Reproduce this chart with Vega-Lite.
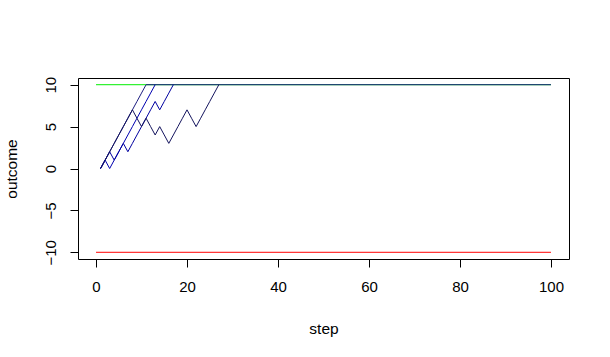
{
  "$schema": "https://vega.github.io/schema/vega-lite/v6.json",
  "width": 491,
  "height": 181,
  "autosize": {"type": "none"},
  "padding": {"left": 78, "top": 78, "right": 41, "bottom": 98},
  "background": "white",
  "config": {
    "view": {"stroke": "black", "strokeWidth": 1},
    "font": "Liberation Sans",
    "axis": {
      "domain": false,
      "grid": false,
      "ticks": true,
      "tickColor": "black",
      "tickSize": 8,
      "labelColor": "black",
      "labelFont": "Liberation Sans",
      "labelFontSize": 15,
      "titleFont": "Liberation Sans",
      "titleFontSize": 15.5,
      "titleFontWeight": "normal",
      "titleColor": "black"
    }
  },
  "datasets": {
    "refs": [
      {"series": "upper", "step": 0, "outcome": 10},
      {"series": "upper", "step": 100, "outcome": 10},
      {"series": "lower", "step": 0, "outcome": -10},
      {"series": "lower", "step": 100, "outcome": -10}
    ],
    "walks": [
      {"walk": "A", "step": 1, "outcome": 0},
      {"walk": "A", "step": 2, "outcome": 1},
      {"walk": "A", "step": 3, "outcome": 2},
      {"walk": "A", "step": 4, "outcome": 3},
      {"walk": "A", "step": 5, "outcome": 4},
      {"walk": "A", "step": 6, "outcome": 5},
      {"walk": "A", "step": 7, "outcome": 6},
      {"walk": "A", "step": 8, "outcome": 7},
      {"walk": "A", "step": 9, "outcome": 8},
      {"walk": "A", "step": 10, "outcome": 9},
      {"walk": "A", "step": 11, "outcome": 10},
      {"walk": "A", "step": 100, "outcome": 10},
      {"walk": "B", "step": 1, "outcome": 0},
      {"walk": "B", "step": 2, "outcome": 1},
      {"walk": "B", "step": 3, "outcome": 0},
      {"walk": "B", "step": 4, "outcome": 1},
      {"walk": "B", "step": 5, "outcome": 2},
      {"walk": "B", "step": 6, "outcome": 3},
      {"walk": "B", "step": 7, "outcome": 4},
      {"walk": "B", "step": 8, "outcome": 5},
      {"walk": "B", "step": 9, "outcome": 6},
      {"walk": "B", "step": 10, "outcome": 7},
      {"walk": "B", "step": 11, "outcome": 8},
      {"walk": "B", "step": 12, "outcome": 9},
      {"walk": "B", "step": 13, "outcome": 10},
      {"walk": "C", "step": 1, "outcome": 0},
      {"walk": "C", "step": 2, "outcome": 1},
      {"walk": "C", "step": 3, "outcome": 2},
      {"walk": "C", "step": 4, "outcome": 1},
      {"walk": "C", "step": 5, "outcome": 2},
      {"walk": "C", "step": 6, "outcome": 3},
      {"walk": "C", "step": 7, "outcome": 2},
      {"walk": "C", "step": 8, "outcome": 3},
      {"walk": "C", "step": 9, "outcome": 4},
      {"walk": "C", "step": 10, "outcome": 5},
      {"walk": "C", "step": 11, "outcome": 6},
      {"walk": "C", "step": 12, "outcome": 7},
      {"walk": "C", "step": 13, "outcome": 8},
      {"walk": "C", "step": 14, "outcome": 7},
      {"walk": "C", "step": 15, "outcome": 8},
      {"walk": "C", "step": 16, "outcome": 9},
      {"walk": "C", "step": 17, "outcome": 10},
      {"walk": "D", "step": 1, "outcome": 0},
      {"walk": "D", "step": 2, "outcome": 1},
      {"walk": "D", "step": 3, "outcome": 2},
      {"walk": "D", "step": 4, "outcome": 3},
      {"walk": "D", "step": 5, "outcome": 4},
      {"walk": "D", "step": 6, "outcome": 5},
      {"walk": "D", "step": 7, "outcome": 6},
      {"walk": "D", "step": 8, "outcome": 7},
      {"walk": "D", "step": 9, "outcome": 6},
      {"walk": "D", "step": 10, "outcome": 5},
      {"walk": "D", "step": 11, "outcome": 6},
      {"walk": "D", "step": 12, "outcome": 5},
      {"walk": "D", "step": 13, "outcome": 4},
      {"walk": "D", "step": 14, "outcome": 5},
      {"walk": "D", "step": 15, "outcome": 4},
      {"walk": "D", "step": 16, "outcome": 3},
      {"walk": "D", "step": 17, "outcome": 4},
      {"walk": "D", "step": 18, "outcome": 5},
      {"walk": "D", "step": 19, "outcome": 6},
      {"walk": "D", "step": 20, "outcome": 7},
      {"walk": "D", "step": 21, "outcome": 6},
      {"walk": "D", "step": 22, "outcome": 5},
      {"walk": "D", "step": 23, "outcome": 6},
      {"walk": "D", "step": 24, "outcome": 7},
      {"walk": "D", "step": 25, "outcome": 8},
      {"walk": "D", "step": 26, "outcome": 9},
      {"walk": "D", "step": 27, "outcome": 10}
    ]
  },
  "encoding": {
    "x": {
      "field": "step",
      "type": "quantitative",
      "scale": {"domain": [-3.96, 103.96], "nice": false, "zero": false},
      "axis": {"title": "step", "values": [0, 20, 40, 60, 80, 100], "labelPadding": 12, "titlePadding": 27, "labelFlush": false}
    },
    "y": {
      "field": "outcome",
      "type": "quantitative",
      "scale": {"domain": [-10.8, 10.8], "nice": false, "zero": false},
      "axis": {"title": "outcome", "values": [-10, -5, 0, 5, 10], "labelAngle": -90, "labelAlign": "center", "labelBaseline": "bottom", "labelPadding": 12, "titlePadding": 24, "labelFlush": false}
    }
  },
  "layer": [
    {
      "data": {"name": "refs"},
      "mark": {"type": "line", "strokeWidth": 1},
      "encoding": {
        "detail": {"field": "series"},
        "color": {
          "field": "series",
          "type": "nominal",
          "scale": {"domain": ["upper", "lower"], "range": ["#00ee00", "#ff0000"]},
          "legend": null
        }
      }
    },
    {
      "data": {"name": "walks"},
      "mark": {"type": "line", "strokeWidth": 1},
      "encoding": {
        "detail": {"field": "walk"},
        "stroke": {
          "field": "walk",
          "type": "nominal",
          "scale": {"domain": ["A", "B", "C", "D"], "range": ["#1c1c80", "#0000b0", "#0000a0", "#14145e"]},
          "legend": null
        }
      }
    }
  ]
}
